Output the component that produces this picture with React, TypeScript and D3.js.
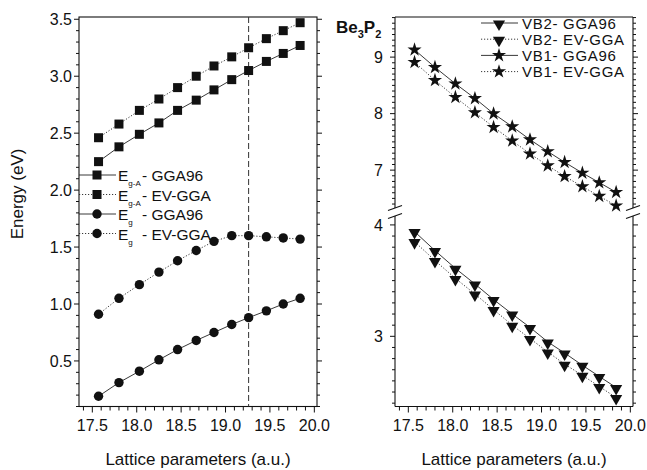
import React from 'react';
import * as d3 from 'd3';

// lattice parameters (a.u.) shared by every series
const latticeParams = [17.57, 17.8, 18.03, 18.25, 18.46, 18.67, 18.87, 19.07, 19.26, 19.46, 19.65, 19.84];

// left panel: band gaps (eV)
const egaGGA96 = [2.25, 2.38, 2.49, 2.59, 2.70, 2.79, 2.88, 2.97, 3.05, 3.13, 3.20, 3.27];
const egaEVGGA = [2.46, 2.58, 2.70, 2.80, 2.90, 3.00, 3.09, 3.17, 3.25, 3.33, 3.40, 3.47];
const egGGA96 = [0.19, 0.31, 0.41, 0.51, 0.60, 0.68, 0.75, 0.82, 0.88, 0.94, 1.00, 1.05];
const egEVGGA = [0.91, 1.05, 1.17, 1.28, 1.38, 1.47, 1.55, 1.60, 1.60, 1.59, 1.58, 1.57];

// right panel: valence band widths (eV)
const vb2GGA96 = [3.94, 3.77, 3.61, 3.47, 3.33, 3.20, 3.08, 2.95, 2.85, 2.74, 2.64, 2.54];
const vb2EVGGA = [3.85, 3.68, 3.52, 3.38, 3.24, 3.10, 2.98, 2.86, 2.75, 2.65, 2.55, 2.45];
const vb1GGA96 = [9.13, 8.82, 8.53, 8.27, 8.00, 7.77, 7.54, 7.33, 7.14, 6.95, 6.78, 6.61];
const vb1EVGGA = [8.91, 8.59, 8.29, 8.02, 7.76, 7.52, 7.29, 7.08, 6.89, 6.71, 6.54, 6.37];

const equilibriumLattice = 19.26;

const xTicks = [17.5, 18.0, 18.5, 19.0, 19.5, 20.0];
const leftYTicks = [0.5, 1.0, 1.5, 2.0, 2.5, 3.0, 3.5];
const upperYTicks = [7, 8, 9];
const lowerYTicks = [3, 4];

const FONT = '"Liberation Sans", Arial, Helvetica, sans-serif';

const W = 647;
const H = 470;
const top = 17;
const bottom = 406.5;
const breakTop = 208;
const breakBottom = 216;

const xLeft = d3.scaleLinear().domain([17.35, 20.03]).range([79, 317]);
const xRight = d3.scaleLinear().domain([17.35, 20.03]).range([395, 633]);
const yLeft = d3.scaleLinear().domain([0.1, 3.52]).range([bottom, top]);
const yUpper = d3.scaleLinear().domain([6.33, 9.71]).range([breakTop, top]);
const yLower = d3.scaleLinear().domain([2.37, 4.08]).range([bottom, breakBottom]);

const minorTicks = (lo: number, hi: number, step: number) =>
  d3.range(Math.round(lo / step), Math.round(hi / step) + 1).map(i => +(i * step).toFixed(3));

const triDown = d3.symbol().type(d3.symbolTriangle).size(64)();
const star = d3.symbol().type(d3.symbolStar).size(62)();

const Marker = ({ kind, x, y }: { kind: string; x: number; y: number }) => {
  if (kind === 'square') return <rect x={x - 4.5} y={y - 4.5} width={9} height={9} fill="#111" />;
  if (kind === 'circle') return <circle cx={x} cy={y} r={4.7} fill="#111" />;
  if (kind === 'tri') return <path d={triDown!} transform={`translate(${x},${y + 1}) rotate(180)`} fill="#111" />;
  return <path d={star!} transform={`translate(${x},${y})`} fill="#111" />;
};

const Series = ({ values, x, y, kind, dotted }: any) => {
  const line = d3.line<number>().x((_, i) => x(latticeParams[i])).y(d => y(d));
  return (
    <g>
      <path d={line(values)!} fill="none" stroke="#222" strokeWidth={0.9}
        strokeDasharray={dotted ? '1.2,1.8' : undefined} />
      {values.map((v: number, i: number) => (
        <Marker key={i} kind={kind} x={x(latticeParams[i])} y={y(v)} />
      ))}
    </g>
  );
};

const XAxis = ({ x }: any) => (
  <g>
    {minorTicks(17.4, 20.0, 0.1).map(t => (
      <line key={t} x1={x(t)} x2={x(t)} y1={bottom} y2={bottom + (Math.abs(t * 2 - Math.round(t * 2)) < 1e-6 ? 6 : 4)} stroke="#111" />
    ))}
    {xTicks.map(t => (
      <text key={t} x={x(t)} y={431} textAnchor="middle" fontSize={16} fontFamily={FONT} fill="#111">{t.toFixed(1)}</text>
    ))}
    <text x={(x.range()[0] + x.range()[1]) / 2} y={465} textAnchor="middle" fontSize={17} fontFamily={FONT} fill="#111">
      Lattice parameters (a.u.)
    </text>
  </g>
);

const YTicks = ({ y, ticks, minors, xAxis, dir, labels, labelX, fmt }: any) => (
  <g>
    {minors.map((t: number) => {
      const major = ticks.some((m: number) => Math.abs(m - t) < 1e-6);
      return <line key={t} x1={xAxis} x2={xAxis + dir * (major ? 5 : 3)} y1={y(t)} y2={y(t)} stroke="#111" />;
    })}
    {labels && ticks.map((t: number) => (
      <text key={t} x={labelX} y={y(t)} dy="0.35em" textAnchor="end" fontSize={16} fontFamily={FONT} fill="#111">{fmt(t)}</text>
    ))}
  </g>
);

const LegendRow = ({ x0, x1, mx, y, kind, dotted, children }: any) => (
  <g>
    <line x1={x0} x2={x1} y1={y} y2={y} stroke="#222" strokeWidth={0.9} strokeDasharray={dotted ? '1.2,1.8' : undefined} />
    <Marker kind={kind} x={mx} y={y} />
    {children}
  </g>
);

export default function App() {
  const leftRows = [
    { kind: 'square', dotted: false, sub: 'g-A', label: '- GGA96' },
    { kind: 'square', dotted: true, sub: 'g-A', label: '- EV-GGA' },
    { kind: 'circle', dotted: false, sub: 'g', label: '- GGA96' },
    { kind: 'circle', dotted: true, sub: 'g', label: '- EV-GGA' },
  ];
  const rightRows = [
    { kind: 'tri', dotted: false, label: 'VB2- GGA96' },
    { kind: 'tri', dotted: true, label: 'VB2- EV-GGA' },
    { kind: 'star', dotted: false, label: 'VB1- GGA96' },
    { kind: 'star', dotted: true, label: 'VB1- EV-GGA' },
  ];

  return (
    <svg width={W} height={H} style={{ position: 'absolute', left: 0, top: 0, background: '#fff' }}>
      {/* ---------- left panel ---------- */}
      <rect x={79} y={top} width={238} height={bottom - top} fill="none" stroke="#111" strokeWidth={1.1} />
      <YTicks y={yLeft} ticks={leftYTicks} minors={minorTicks(0.1, 3.5, 0.1)} xAxis={79} dir={-1} labels labelX={72} fmt={(t: number) => t.toFixed(1)} />
      <YTicks y={yLeft} ticks={leftYTicks} minors={minorTicks(0.1, 3.5, 0.1)} xAxis={317} dir={1} />
      <XAxis x={xLeft} />
      <text transform={`translate(17,194) rotate(-90)`} textAnchor="middle" dy="0.35em" fontSize={17} fontFamily={FONT} fill="#111">Energy (eV)</text>

      <line x1={xLeft(equilibriumLattice)} x2={xLeft(equilibriumLattice)} y1={top} y2={bottom} stroke="#333" strokeWidth={1} strokeDasharray="6,3" />

      <Series values={egaGGA96} x={xLeft} y={yLeft} kind="square" />
      <Series values={egaEVGGA} x={xLeft} y={yLeft} kind="square" dotted />
      <Series values={egGGA96} x={xLeft} y={yLeft} kind="circle" />
      <Series values={egEVGGA} x={xLeft} y={yLeft} kind="circle" dotted />

      {leftRows.map((r, i) => {
        const y = 175 + i * 19.5;
        return (
          <LegendRow key={i} x0={79} x1={116} mx={97} y={y} kind={r.kind} dotted={r.dotted}>
            <text x={118} y={y + 6} fontSize={15.5} fontFamily={FONT} fill="#111">
              E<tspan dy={5} fontSize={8}>{r.sub}</tspan>
            </text>
            <text x={142} y={y + 6} fontSize={15.5} fontFamily={FONT} fill="#111">{r.label}</text>
          </LegendRow>
        );
      })}

      {/* ---------- right panel ---------- */}
      <line x1={395} x2={633} y1={top} y2={top} stroke="#111" strokeWidth={1.1} />
      <line x1={395} x2={633} y1={bottom} y2={bottom} stroke="#111" strokeWidth={1.1} />
      {[395, 633].map(xa => (
        <g key={xa}>
          <line x1={xa} x2={xa} y1={top} y2={breakTop} stroke="#111" strokeWidth={1.1} />
          <line x1={xa} x2={xa} y1={breakBottom} y2={bottom} stroke="#111" strokeWidth={1.1} />
          <line x1={xa - 7} x2={xa + 7} y1={breakTop + 2.5} y2={breakTop - 2.5} stroke="#111" strokeWidth={1.1} />
          <line x1={xa - 7} x2={xa + 7} y1={breakBottom + 2.5} y2={breakBottom - 2.5} stroke="#111" strokeWidth={1.1} />
        </g>
      ))}
      <YTicks y={yUpper} ticks={upperYTicks} minors={minorTicks(6.4, 9.7, 0.1)} xAxis={395} dir={-1} labels labelX={383} fmt={(t: number) => String(t)} />
      <YTicks y={yUpper} ticks={upperYTicks} minors={minorTicks(6.4, 9.7, 0.1)} xAxis={633} dir={1} />
      <YTicks y={yLower} ticks={lowerYTicks} minors={minorTicks(2.4, 4.0, 0.1)} xAxis={395} dir={-1} labels labelX={383} fmt={(t: number) => String(t)} />
      <YTicks y={yLower} ticks={lowerYTicks} minors={minorTicks(2.4, 4.0, 0.1)} xAxis={633} dir={1} />
      <XAxis x={xRight} />

      <text x={336} y={33} fontSize={17} fontWeight="bold" fontFamily={FONT} fill="#111">
        Be<tspan dy={5} fontSize={11}>3</tspan><tspan dy={-5}>P</tspan><tspan dy={5} fontSize={11}>2</tspan>
      </text>

      <Series values={vb1GGA96} x={xRight} y={yUpper} kind="star" />
      <Series values={vb1EVGGA} x={xRight} y={yUpper} kind="star" dotted />
      <Series values={vb2GGA96} x={xRight} y={yLower} kind="tri" />
      <Series values={vb2EVGGA} x={xRight} y={yLower} kind="tri" dotted />

      {rightRows.map((r, i) => {
        const y = 23 + i * 16.2;
        return (
          <LegendRow key={i} x0={481} x1={518} mx={499} y={y} kind={r.kind} dotted={r.dotted}>
            <text x={522} y={y + 5.5} fontSize={15} letterSpacing={0.7} fontFamily={FONT} fill="#111">{r.label}</text>
          </LegendRow>
        );
      })}
    </svg>
  );
}
